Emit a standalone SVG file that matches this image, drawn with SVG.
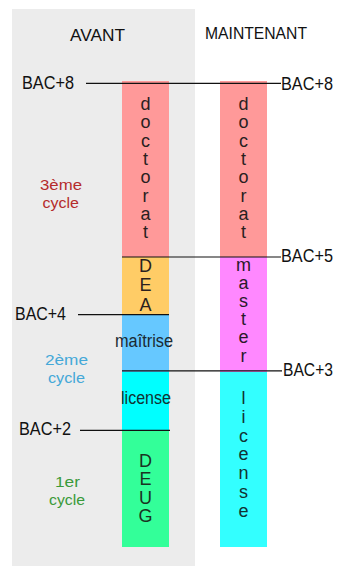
<svg xmlns="http://www.w3.org/2000/svg" width="338" height="566" viewBox="0 0 338 566">
<style>
text{font-family:"Liberation Sans",Arial,sans-serif}
.hd{font-size:17px;fill:#111}
.bac{font-size:17.5px;fill:#111}
.v{font-size:18px;fill:#2a1f1f;text-anchor:middle}
.h{font-size:17.5px;fill:#2a1f1f}
.cy{font-size:15.5px}
.ln{stroke:#111;stroke-width:1.2;fill:none}
</style>
<rect x="0" y="0" width="338" height="566" fill="#ffffff"/>
<rect x="12" y="9" width="183" height="557" fill="#ececec"/>
<text class="hd" x="70" y="41" textLength="55" lengthAdjust="spacingAndGlyphs">AVANT</text>
<text class="hd" x="205" y="39" textLength="102" lengthAdjust="spacingAndGlyphs">MAINTENANT</text>

<g id="avant-doctorat">
<rect x="122" y="81" width="47" height="176" fill="#ff9999"/>
<text class="v"><tspan x="145.5" y="110">d</tspan><tspan x="145.5" y="128.3">o</tspan><tspan x="145.5" y="146.6">c</tspan><tspan x="145.5" y="164.9">t</tspan><tspan x="145.5" y="183.2">o</tspan><tspan x="145.5" y="201.5">r</tspan><tspan x="145.5" y="219.8">a</tspan><tspan x="145.5" y="238">t</tspan></text>
</g>
<g id="avant-dea">
<rect x="122" y="257" width="47" height="58" fill="#ffcc66"/>
<text class="v"><tspan x="145.5" y="272">D</tspan><tspan x="145.5" y="291">E</tspan><tspan x="145.5" y="310.5">A</tspan></text>
</g>
<g id="avant-maitrise">
<rect x="122" y="315" width="47" height="57" fill="#66c8ff"/>
<text class="h" x="115" y="347" textLength="58" lengthAdjust="spacingAndGlyphs" style="fill:#1a2a33">maîtrise</text>
</g>
<g id="avant-license">
<rect x="122" y="372" width="47" height="58" fill="#00ffff"/>
<text class="h" x="121" y="404" textLength="50" lengthAdjust="spacingAndGlyphs" style="fill:#113333">license</text>
</g>
<g id="avant-deug">
<rect x="122" y="430" width="47" height="117" fill="#33ff99"/>
<text class="v" style="fill:#1a3322"><tspan x="145.5" y="466.5">D</tspan><tspan x="145.5" y="485">E</tspan><tspan x="145.5" y="503.5">U</tspan><tspan x="145.5" y="522">G</tspan></text>
</g>

<g id="maintenant-doctorat">
<rect x="220" y="81" width="47" height="176" fill="#ff9999"/>
<text class="v"><tspan x="243.5" y="110">d</tspan><tspan x="243.5" y="128.3">o</tspan><tspan x="243.5" y="146.6">c</tspan><tspan x="243.5" y="164.9">t</tspan><tspan x="243.5" y="183.2">o</tspan><tspan x="243.5" y="201.5">r</tspan><tspan x="243.5" y="219.8">a</tspan><tspan x="243.5" y="238">t</tspan></text>
</g>
<g id="maintenant-master">
<rect x="220" y="257" width="47" height="115" fill="#ff88ff"/>
<text class="v" style="fill:#2a1a2a"><tspan x="243.5" y="270.5">m</tspan><tspan x="243.5" y="288.7">a</tspan><tspan x="243.5" y="306.9">s</tspan><tspan x="243.5" y="325.1">t</tspan><tspan x="243.5" y="343.3">e</tspan><tspan x="243.5" y="361.5">r</tspan></text>
</g>
<g id="maintenant-license">
<rect x="220" y="372" width="47" height="175" fill="#33ffff"/>
<text class="v" style="fill:#113333"><tspan x="243.5" y="404.3">l</tspan><tspan x="243.5" y="423">i</tspan><tspan x="243.5" y="441.7">c</tspan><tspan x="243.5" y="460.4">e</tspan><tspan x="243.5" y="479.1">n</tspan><tspan x="243.5" y="497.8">s</tspan><tspan x="243.5" y="516.5">e</tspan></text>
</g>

<g id="cycles">
<text class="cy" x="40" y="190" textLength="42" lengthAdjust="spacingAndGlyphs" fill="#b52b2b">3ème</text>
<text class="cy" x="42.5" y="208" textLength="36.5" lengthAdjust="spacingAndGlyphs" fill="#b52b2b">cycle</text>
<text class="cy" x="45" y="365" textLength="43" lengthAdjust="spacingAndGlyphs" fill="#44a8d8">2ème</text>
<text class="cy" x="48" y="383" textLength="37" lengthAdjust="spacingAndGlyphs" fill="#44a8d8">cycle</text>
<text class="cy" x="55" y="487" textLength="25" lengthAdjust="spacingAndGlyphs" fill="#3a9a3a">1er</text>
<text class="cy" x="49" y="505" textLength="36" lengthAdjust="spacingAndGlyphs" fill="#3a9a3a">cycle</text>
</g>

<g id="connectors">
<line class="ln" x1="86" y1="83.3" x2="281" y2="83.3"/>
<line class="ln" x1="122" y1="257" x2="281" y2="257"/>
<line class="ln" x1="78" y1="314.7" x2="169" y2="314.7"/>
<line class="ln" x1="122" y1="370.8" x2="282" y2="370.8"/>
<line class="ln" x1="80" y1="430.3" x2="170" y2="430.3"/>
</g>
<g id="labels">
<text class="bac" x="22" y="88.5" textLength="52" lengthAdjust="spacingAndGlyphs">BAC+8</text>
<text class="bac" x="281" y="89.5" textLength="52" lengthAdjust="spacingAndGlyphs">BAC+8</text>
<text class="bac" x="281" y="262" textLength="52" lengthAdjust="spacingAndGlyphs">BAC+5</text>
<text class="bac" x="15" y="319.5" textLength="51" lengthAdjust="spacingAndGlyphs">BAC+4</text>
<text class="bac" x="283" y="376" textLength="50" lengthAdjust="spacingAndGlyphs">BAC+3</text>
<text class="bac" x="19" y="435" textLength="52" lengthAdjust="spacingAndGlyphs">BAC+2</text>
</g>
</svg>
